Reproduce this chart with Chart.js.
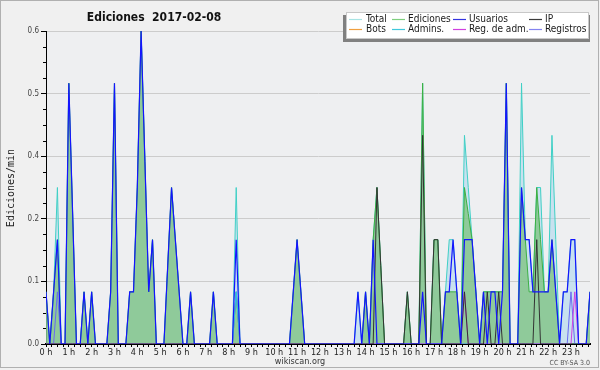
<!DOCTYPE html>
<html><head><meta charset="utf-8">
<script src="https://cdn.jsdelivr.net/npm/chart.js@4.4.0/dist/chart.umd.min.js"></script>
<style>html,body{margin:0;padding:0;background:#f0f0f0;}#wrap{width:600px;height:370px;position:relative;}canvas{display:block;}</style>
</head><body><div id="wrap"><canvas id="c" width="600" height="370"></canvas></div>
<script>
// ---- data ----
const titleText = 'Ediciones  2017-02-08';
const yAxisTitle = 'Ediciones/min';
const xAxisTitle = 'wikiscan.org';
const licenseText = 'CC BY-SA 3.0';
const seriesNames = ['Total', 'Ediciones', 'Usuarios', 'IP', 'Bots', 'Admins.', 'Reg. de adm.', 'Registros'];
const hourLabels = ['0 h','1 h','2 h','3 h','4 h','5 h','6 h','7 h','8 h','9 h','10 h','11 h','12 h','13 h','14 h','15 h','16 h','17 h','18 h','19 h','20 h','21 h','22 h','23 h'];
const yTickValues = [0, 0.12, 0.24, 0.36, 0.48, 0.6];
const yTickLabels = ['0.0', '0.1', '0.2', '0.4', '0.5', '0.6'];
// 10-minute bins, one row per hour
const total = [
  0.1,0,0.1,0.3,0,0,   0.5,0.25,0,0,0.1,0,   0.1,0,0,0,0,0.1,   0.5,0,0,0,0.1,0.1,
  0.3,0.6,0.35,0.1,0.2,0,   0,0,0.15,0.3,0.2,0.1,   0,0,0.1,0,0,0,   0,0,0.1,0,0,0,
  0,0,0.3,0,0,0,   0,0,0,0,0,0,   0,0,0,0,0,0.1,   0.2,0.1,0,0,0,0,
  0,0,0,0,0,0,   0,0,0,0,0.1,0,   0.1,0,0.2,0.3,0.15,0,   0,0,0,0,0,0.1,
  0,0,0,0.5,0,0,   0.2,0.2,0,0.1,0.2,0.2,   0.1,0,0.4,0.3,0.2,0.1,   0,0.1,0.1,0.1,0.1,0.1,
  0.1,0.5,0,0,0,0.5,   0.2,0.2,0.1,0.3,0.3,0.1,   0.1,0.4,0.2,0,0.1,0.1,   0.2,0.2,0,0,0,0.1
];
const ediciones = [
  0.1,0,0.1,0.2,0,0,   0.5,0.25,0,0,0.1,0,   0.1,0,0,0,0,0.1,   0.5,0,0,0,0.1,0.1,
  0.3,0.6,0.35,0.1,0.2,0,   0,0,0.15,0.3,0.2,0.1,   0,0,0.1,0,0,0,   0,0,0.1,0,0,0,
  0,0,0.1,0,0,0,   0,0,0,0,0,0,   0,0,0,0,0,0.1,   0.2,0.1,0,0,0,0,
  0,0,0,0,0,0,   0,0,0,0,0,0,   0.1,0,0.2,0.3,0.15,0,   0,0,0,0,0,0.1,
  0,0,0,0.5,0,0,   0.2,0.2,0,0.1,0.1,0.1,   0.1,0,0.3,0.25,0.2,0.1,   0,0.1,0.1,0.1,0.1,0.1,
  0.1,0.5,0,0,0,0.3,   0.2,0.1,0.1,0.3,0.2,0.1,   0.1,0.2,0.1,0,0,0,   0,0,0,0,0,0.1
];
const usuarios = [
  0.1,0,0.1,0.2,0,0,   0.5,0.25,0,0,0.1,0,   0.1,0,0,0,0,0.1,   0.5,0,0,0,0.1,0.1,
  0.3,0.6,0.35,0.1,0.2,0,   0,0,0.15,0.3,0.2,0.1,   0,0,0.1,0,0,0,   0,0,0.1,0,0,0,
  0,0,0.2,0,0,0,   0,0,0,0,0,0,   0,0,0,0,0,0.1,   0.2,0.1,0,0,0,0,
  0,0,0,0,0,0,   0,0,0,0,0.1,0,   0.1,0,0.2,0,0,0,   0,0,0,0,0,0,
  0,0,0,0.1,0,0,   0,0,0,0.1,0.1,0.2,   0.1,0,0.2,0.2,0.2,0.1,   0,0.1,0,0.1,0.1,0,
  0.1,0.5,0,0,0,0.3,   0.2,0.2,0.1,0.1,0.1,0.1,   0.1,0.2,0.1,0,0.1,0.1,   0.2,0.2,0,0,0,0.1
];
const ip = [
  0,0,0,0,0,0,   0,0,0,0,0,0,   0,0,0,0,0,0,   0,0,0,0,0,0,
  0,0,0,0,0,0,   0,0,0,0,0,0,   0,0,0,0,0,0,   0,0,0,0,0,0,
  0,0,0,0,0,0,   0,0,0,0,0,0,   0,0,0,0,0,0,   0,0,0,0,0,0,
  0,0,0,0,0,0,   0,0,0,0,0,0,   0,0,0,0.3,0.15,0,   0,0,0,0,0,0.1,
  0,0,0,0.4,0,0,   0.2,0.2,0,0,0,0,   0,0,0.1,0,0,0,   0,0,0.1,0,0,0.1,
  0,0,0,0,0,0,   0,0,0,0.2,0,0,   0,0,0,0,0,0,   0,0,0,0,0,0
];
const bots = [
  0,0,0,0,0,0,   0,0,0,0,0,0,   0,0,0,0,0,0,   0,0,0,0,0,0,
  0,0,0,0,0,0,   0,0,0,0,0,0,   0,0,0,0,0,0,   0,0,0,0,0,0,
  0,0,0,0,0,0,   0,0,0,0,0,0,   0,0,0,0,0,0,   0,0,0,0,0,0,
  0,0,0,0,0,0,   0,0,0,0,0,0,   0,0,0,0,0,0,   0,0,0,0,0,0,
  0,0,0,0,0,0,   0,0,0,0,0,0,   0,0,0,0,0,0,   0,0,0,0,0,0,
  0,0,0,0,0,0,   0,0,0,0,0,0,   0,0,0,0,0,0,   0,0,0,0,0,0
];
const admins = [
  0,0,0,0,0,0,   0,0,0,0,0,0,   0,0,0,0,0,0,   0,0,0,0,0,0,
  0,0,0,0,0,0,   0,0,0,0,0,0,   0,0,0,0,0,0,   0,0,0,0,0,0,
  0,0,0.1,0,0,0,   0,0,0,0,0,0,   0,0,0,0,0,0,   0,0,0,0,0,0,
  0,0,0,0,0,0,   0,0,0,0,0,0,   0,0,0,0,0,0,   0,0,0,0,0,0,
  0,0,0,0,0,0,   0,0,0,0,0,0,   0,0,0,0,0,0,   0,0,0,0,0,0,
  0,0,0,0,0,0,   0,0,0,0,0,0,   0,0,0,0,0,0,   0,0,0,0,0,0
];
const regAdm = [
  0,0,0,0,0,0,   0,0,0,0,0,0,   0,0,0,0,0,0,   0,0,0,0,0,0,
  0,0,0,0,0,0,   0,0,0,0,0,0,   0,0,0,0,0,0,   0,0,0,0,0,0,
  0,0,0,0,0,0,   0,0,0,0,0,0,   0,0,0,0,0,0,   0,0,0,0,0,0,
  0,0,0,0,0,0,   0,0,0,0,0,0,   0,0,0,0,0,0,   0,0,0,0,0,0,
  0,0,0,0,0,0,   0,0,0,0,0,0,   0,0,0.1,0,0,0,   0,0,0,0,0,0,
  0,0,0,0,0,0,   0,0,0,0,0,0,   0,0,0,0,0,0,   0,0.1,0,0,0,0
];
const registros = [
  0,0,0,0.1,0,0,   0,0,0,0,0,0,   0,0,0,0,0,0,   0,0,0,0,0,0,
  0,0,0,0,0,0,   0,0,0,0,0,0,   0,0,0,0,0,0,   0,0,0,0,0,0,
  0,0,0.1,0,0,0,   0,0,0,0,0,0,   0,0,0,0,0,0,   0,0,0,0,0,0,
  0,0,0,0,0,0,   0,0,0,0,0,0,   0,0,0,0,0,0,   0,0,0,0,0,0,
  0,0,0,0,0,0,   0,0,0,0,0,0,   0,0,0,0,0,0,   0,0,0,0,0,0,
  0,0,0,0,0,0,   0,0,0,0,0,0,   0,0,0,0,0,0,   0.1,0,0,0,0,0
];
// bin start times in hours (10-minute bins)
const binHours = total.map((_, i) => i / 6);

// ---- styles ----
const FONT = "'DejaVu Sans Condensed', 'DejaVu Sans', sans-serif";
const legendColors = ['#a8e4e4', '#7fcf7f', '#3434e0', '#3a3a3a', '#f0a040', '#40c8dc', '#d040e0', '#8484f0'];
const pts = arr => arr.map((v, i) => ({x: binHours[i], y: v}));

function lineDs(label, arr, color, order, extra) {
  return Object.assign({label, data: pts(arr), borderColor: color, borderWidth: 1, pointRadius: 0,
    tension: 0, fill: false, order}, extra || {});
}

const datasets = [
  lineDs(seriesNames[0], total, '#3fd0c6', 10, {fill: 'origin', backgroundColor: 'rgba(170,214,236,0.55)'}),
  lineDs(seriesNames[1], ediciones, '#3cb043', 9, {fill: 'origin', backgroundColor: 'rgba(120,192,120,0.72)'}),
  lineDs(seriesNames[4], bots, '#f0a040', 7),
  lineDs(seriesNames[7], registros, '#6a6af0', 6),
  lineDs(seriesNames[5], admins, '#30c8d8', 5),
  lineDs(seriesNames[6], regAdm, '#d040e0', 4),
  lineDs(seriesNames[3], ip, '#333333', 3),
  lineDs(seriesNames[2], usuarios, '#1414ff', 2, {borderWidth: 1.2})
];

const deco = {
  id: 'deco',
  beforeDraw(chart) {
    const {ctx, chartArea: a} = chart;
    ctx.save();
    ctx.fillStyle = '#f0f0f0';
    ctx.fillRect(0, 0, 600, 370);
    ctx.strokeStyle = '#b0b0b0';
    ctx.lineWidth = 1;
    ctx.strokeRect(0.5, 0.5, 598, 367);
    ctx.fillStyle = '#eeeff1';
    ctx.fillRect(a.left, a.top, a.right - a.left, a.bottom - a.top);
    ctx.restore();
  },
  afterDraw(chart) {
    const {ctx, chartArea: a} = chart;
    const ys = chart.scales.y;
    ctx.save();
    // minor y ticks
    ctx.strokeStyle = '#000';
    ctx.lineWidth = 1;
    for (let k = 0; k <= 20; k++) {
      if (k % 4 === 0) continue;
      const y = Math.round(ys.getPixelForValue(k * 0.03)) + 0.5;
      ctx.beginPath(); ctx.moveTo(a.left - 3, y); ctx.lineTo(a.left, y); ctx.stroke();
    }
    // title
    ctx.fillStyle = '#111';
    ctx.font = "bold 12px " + FONT;
    ctx.textAlign = 'center';
    ctx.textBaseline = 'alphabetic';
    ctx.fillText(titleText, 154, 21);
    // y axis title
    ctx.save();
    ctx.translate(13.5, 188);
    ctx.rotate(-Math.PI / 2);
    ctx.font = "10px 'DejaVu Sans Mono', monospace";
    ctx.fillStyle = '#222';
    ctx.textAlign = 'center';
    ctx.fillText(yAxisTitle, 0, 0);
    ctx.restore();
    // x axis title & license
    ctx.font = "9px " + FONT;
    ctx.fillStyle = '#333';
    ctx.textAlign = 'center';
    ctx.fillText(xAxisTitle, 300, 364);
    ctx.font = "7px " + FONT;
    ctx.fillStyle = '#555';
    ctx.textAlign = 'right';
    ctx.fillText(licenseText, 590, 365);
    // legend box with shadow
    ctx.fillStyle = '#808080';
    ctx.fillRect(343, 15, 247, 27);
    ctx.fillStyle = '#ffffff';
    ctx.fillRect(346, 12, 243, 27);
    ctx.strokeStyle = '#c8c8c8';
    ctx.strokeRect(346.5, 12.5, 242, 26);
    const swX = [349, 392, 453, 529];
    const txX = [366, 408, 469, 545];
    const rowY = [19, 29];
    ctx.font = "10px " + FONT;
    ctx.textAlign = 'left';
    ctx.textBaseline = 'middle';
    seriesNames.forEach((name, i) => {
      const r = Math.floor(i / 4), c = i % 4;
      ctx.strokeStyle = legendColors[i];
      ctx.lineWidth = 1.2;
      ctx.beginPath(); ctx.moveTo(swX[c], rowY[r] + 0.5); ctx.lineTo(swX[c] + 13, rowY[r] + 0.5); ctx.stroke();
      ctx.fillStyle = '#1a1a1a';
      ctx.fillText(name, txX[c], rowY[r] + 0.5);
    });
    ctx.restore();
  }
};

new Chart(document.getElementById('c'), {
  type: 'line',
  data: {datasets},
  options: {
    responsive: false,
    animation: false,
    devicePixelRatio: 1,
    layout: {padding: {left: 0, right: 10, top: 31, bottom: 0}},
    plugins: {legend: {display: false}, title: {display: false}, tooltip: {enabled: false}},
    scales: {
      x: {
        type: 'linear', min: 0, max: binHours[binHours.length - 1], z: 1,
        afterBuildTicks: s => { const t = []; for (let k = 0; k < 96; k++) t.push({value: k / 4}); s.ticks = t; },
        afterFit: s => { s.height = 26; },
        grid: {drawOnChartArea: false, drawTicks: true, tickLength: 3, tickColor: '#000', color: '#000'},
        border: {color: '#000', width: 2},
        ticks: {autoSkip: false, maxRotation: 0, minRotation: 0, padding: 0, color: '#222',
          font: {family: FONT, size: 9},
          callback: v => (Number.isInteger(v) ? hourLabels[v] : '')}
      },
      y: {
        min: 0, max: 0.6,
        afterBuildTicks: s => { s.ticks = yTickValues.map(v => ({value: v})); },
        afterFit: s => { s.width = 46; },
        grid: {color: c => (c.tick && c.tick.value === 0 ? 'rgba(0,0,0,0)' : '#cccccc'), tickColor: '#000', tickLength: 5},
        border: {color: '#000', width: 1},
        ticks: {padding: 2, color: '#444', font: {family: FONT, size: 8},
          callback: (v, i) => yTickLabels[i]}
      }
    }
  },
  plugins: [deco]
});
</script></body></html>
